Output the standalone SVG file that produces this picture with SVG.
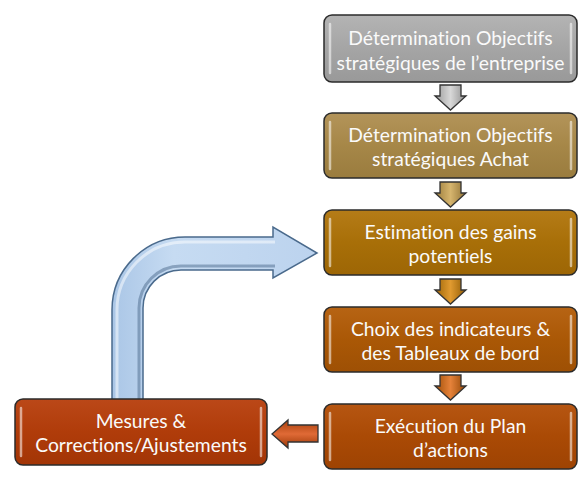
<svg xmlns="http://www.w3.org/2000/svg" width="586" height="487" viewBox="0 0 586 487">
<defs>
<style>
.box{stroke:#2b2b2b;stroke-width:1.5}
.hl{fill:none;stroke:#fff;stroke-opacity:0.55;stroke-width:2.5;stroke-linecap:round}
.t{font-family:Lato,"Open Sans","Liberation Sans",sans-serif;font-size:19.3px;fill:#fafafa;text-anchor:middle;font-variant-ligatures:none}
.arr{stroke:#333;stroke-width:1.3;stroke-linejoin:miter}
</style>
<linearGradient id="g1" x1="0" y1="0" x2="0" y2="1"><stop offset="0" stop-color="#b4b4b4"/><stop offset="0.5" stop-color="#a5a5a5"/><stop offset="1" stop-color="#999"/></linearGradient>
<linearGradient id="g2" x1="0" y1="0" x2="0" y2="1"><stop offset="0" stop-color="#b3945a"/><stop offset="0.5" stop-color="#a68748"/><stop offset="1" stop-color="#9a7c3e"/></linearGradient>
<linearGradient id="g3" x1="0" y1="0" x2="0" y2="1"><stop offset="0" stop-color="#b57c18"/><stop offset="0.5" stop-color="#a86f08"/><stop offset="1" stop-color="#9d6605"/></linearGradient>
<linearGradient id="g4" x1="0" y1="0" x2="0" y2="1"><stop offset="0" stop-color="#b76414"/><stop offset="0.5" stop-color="#aa5806"/><stop offset="1" stop-color="#9e5004"/></linearGradient>
<linearGradient id="g5" x1="0" y1="0" x2="0" y2="1"><stop offset="0" stop-color="#b65612"/><stop offset="0.5" stop-color="#aa4a05"/><stop offset="1" stop-color="#9e4303"/></linearGradient>
<linearGradient id="g6" x1="0" y1="0" x2="0" y2="1"><stop offset="0" stop-color="#bb4818"/><stop offset="0.5" stop-color="#b03c0a"/><stop offset="1" stop-color="#a23506"/></linearGradient>
<linearGradient id="a1" x1="0" y1="0" x2="1" y2="0"><stop offset="0" stop-color="#9a9a9a"/><stop offset="0.5" stop-color="#d8d8d8"/><stop offset="1" stop-color="#8e8e8e"/></linearGradient>
<linearGradient id="a2" x1="0" y1="0" x2="1" y2="0"><stop offset="0" stop-color="#9a7b3a"/><stop offset="0.5" stop-color="#d6b56e"/><stop offset="1" stop-color="#8e7034"/></linearGradient>
<linearGradient id="a3" x1="0" y1="0" x2="1" y2="0"><stop offset="0" stop-color="#9c6406"/><stop offset="0.5" stop-color="#e09a30"/><stop offset="1" stop-color="#905b04"/></linearGradient>
<linearGradient id="a4" x1="0" y1="0" x2="1" y2="0"><stop offset="0" stop-color="#a04e06"/><stop offset="0.5" stop-color="#e5823a"/><stop offset="1" stop-color="#924604"/></linearGradient>
<linearGradient id="a5" x1="0" y1="0" x2="0" y2="1"><stop offset="0" stop-color="#a8400c"/><stop offset="0.5" stop-color="#e06a36"/><stop offset="1" stop-color="#9a3806"/></linearGradient>
<linearGradient id="blue" x1="0" y1="0" x2="1" y2="0"><stop offset="0" stop-color="#aac6e6"/><stop offset="0.3" stop-color="#c6dbf2"/><stop offset="1" stop-color="#bcd3ee"/></linearGradient>
</defs>

<g id="connectors">
<path class="arr" fill="url(#a1)" d="M440,85 H461 V96 H466 L450.5,110 L435,96 H440 Z"/>
<path class="arr" fill="url(#a2)" d="M440,182 H461 V193 H466 L450.5,207 L435,193 H440 Z"/>
<path class="arr" fill="url(#a3)" d="M440,279 H461 V290 H466 L450.5,304 L435,290 H440 Z"/>
<path class="arr" fill="url(#a4)" d="M440,375 H461 V386 H466 L450.5,400 L435,386 H440 Z"/>
<path class="arr" fill="url(#a5)" d="M318,425 V442 H288 V448 L272,434 L288,420 V425 Z"/>
<path id="loop" fill="url(#blue)" stroke="#4a6a8c" stroke-width="1.5" stroke-linejoin="miter" d="M112,403 V310 A73,73 0 0 1 185,237 H273 V227 L317,253 L273,278 V270 H181 A38,38 0 0 0 143,308 V403 Z"/>
<path fill="none" stroke="#fff" stroke-opacity="0.5" stroke-width="3" d="M117,400 V311 A68,68 0 0 1 185,242 H275"/>
<path fill="none" stroke="#3e5d80" stroke-opacity="0.45" stroke-width="3" d="M139,400 V308 A42,42 0 0 1 181,266 H275"/>
</g>

<g id="n1">
<rect class="box" x="324" y="15" width="253" height="67" rx="8" fill="url(#g1)"/>
<path class="hl" d="M330,24 V73 M571,24 V73"/>
<text class="t" x="450.5" y="45">Détermination Objectifs</text>
<text class="t" x="450.5" y="70">stratégiques de l’entreprise</text>
</g>

<g id="n2">
<rect class="box" x="324" y="113" width="253" height="65" rx="8" fill="url(#g2)"/>
<path class="hl" d="M330,122 V169 M571,122 V169"/>
<text class="t" x="450.5" y="142">Détermination Objectifs</text>
<text class="t" x="450.5" y="166">stratégiques Achat</text>
</g>

<g id="n3">
<rect class="box" x="324" y="210" width="253" height="65" rx="8" fill="url(#g3)"/>
<path class="hl" d="M330,219 V266 M571,219 V266"/>
<text class="t" x="450.5" y="239">Estimation des gains</text>
<text class="t" x="450.5" y="263">potentiels</text>
</g>

<g id="n4">
<rect class="box" x="324" y="307" width="253" height="65" rx="8" fill="url(#g4)"/>
<path class="hl" d="M330,316 V363 M571,316 V363"/>
<text class="t" x="450.5" y="336">Choix des indicateurs &amp;</text>
<text class="t" x="450.5" y="360">des Tableaux de bord</text>
</g>

<g id="n5">
<rect class="box" x="324" y="404" width="253" height="65" rx="8" fill="url(#g5)"/>
<path class="hl" d="M330,413 V460 M571,413 V460"/>
<text class="t" x="450.5" y="433">Exécution du Plan</text>
<text class="t" x="450.5" y="457">d’actions</text>
</g>

<g id="n6">
<rect class="box" x="15" y="399" width="252" height="66" rx="8" fill="url(#g6)"/>
<path class="hl" d="M21,408 V456 M261,408 V456"/>
<text class="t" x="141" y="428">Mesures &amp;</text>
<text class="t" x="141" y="452">Corrections/Ajustements</text>
</g>
</svg>
